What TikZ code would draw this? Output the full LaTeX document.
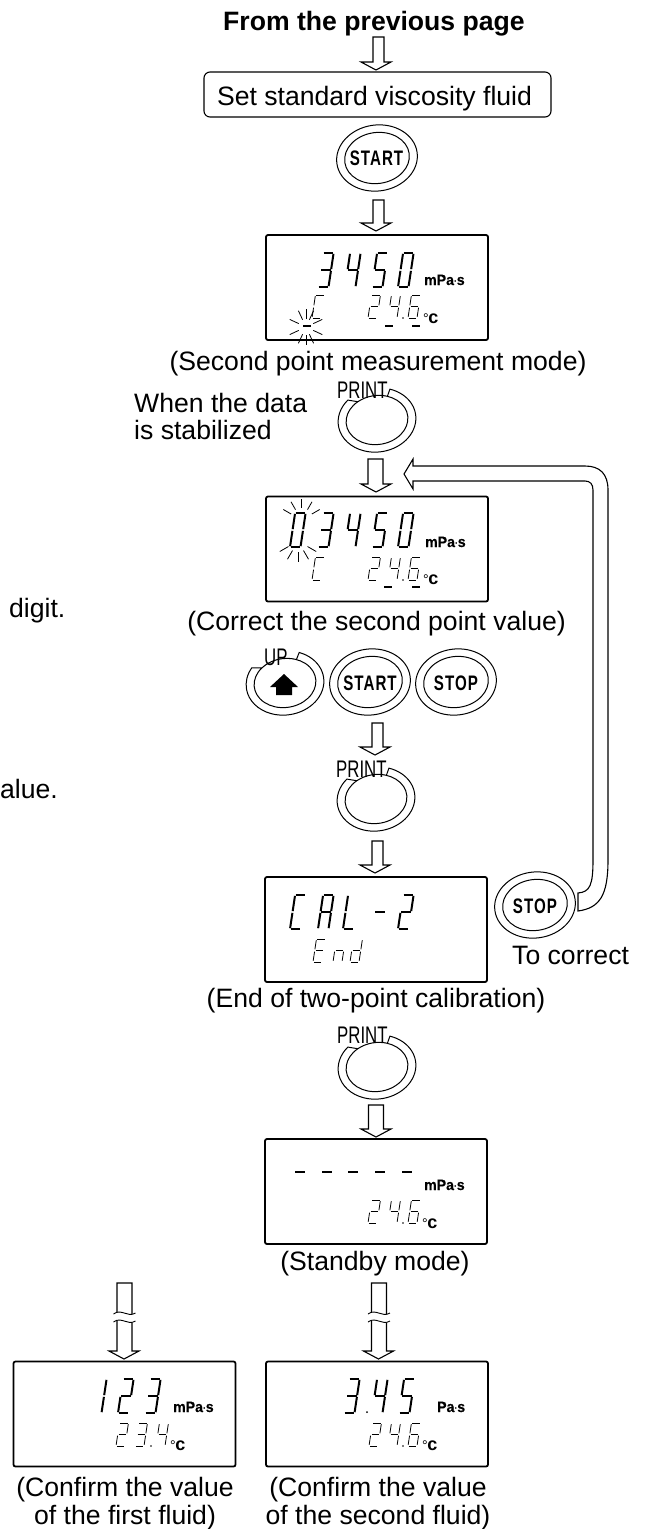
\documentclass[tikz,border=0pt]{standalone}
\usepackage{fontspec}
\setmainfont{Liberation Sans}
\newfontfamily\narrowfont[FakeStretch=0.7]{Liberation Sans}
\newfontfamily\keyfont[FakeStretch=0.72,LetterSpace=5]{Liberation Sans}
\newfontfamily\unitfont[FakeStretch=0.94,FakeBold=0.4]{Liberation Sans}
\usetikzlibrary{calc}

% segments of one lcd digit, x/y/x/y with y=0,1,2 from top to bottom
\newcommand{\defdigit}[2]{\expandafter\def\csname seg#1\endcsname{#2}}
\defdigit{0}{0/0/1/0,1/0/1/1,1/1/1/2,0/2/1/2,0/1/0/2,0/0/0/1}
\defdigit{1}{1/0/1/1,1/1/1/2}
\defdigit{2}{0/0/1/0,1/0/1/1,0/1/1/1,0/1/0/2,0/2/1/2}
\defdigit{3}{0/0/1/0,1/0/1/1,0/1/1/1,1/1/1/2,0/2/1/2}
\defdigit{4}{0/0/0/1,0/1/1/1,1/0/1/1,1/1/1/2}
\defdigit{5}{0/0/1/0,0/0/0/1,0/1/1/1,1/1/1/2,0/2/1/2}
\defdigit{6}{0/0/1/0,0/0/0/1,0/1/1/1,0/1/0/2,1/1/1/2,0/2/1/2}
\defdigit{C}{0/0/1/0,0/0/0/1,0/1/0/2,0/2/1/2}
\defdigit{A}{0/0/1/0,0/0/0/1,1/0/1/1,0/1/1/1,0/1/0/2,1/1/1/2}
\defdigit{L}{0/0/0/1,0/1/0/2,0/2/1/2}
\defdigit{E}{0/0/1/0,0/0/0/1,0/1/1/1,0/1/0/2,0/2/1/2}
\defdigit{n}{0/1/1/1,0/1/0/2,1/1/1/2}
\defdigit{d}{1/0/1/1,1/1/1/2,0/1/1/1,0/1/0/2,0/2/1/2}
\defdigit{m}{0/1/1/1}

% #1 width, #2 height, #3 line width, #4 x, #5 y of lower left corner, #6 digit
\newcommand{\lcddigit}[6]{
  \edef\seglist{\csname seg#6\endcsname}
  \begin{scope}[shift={(#4,#5)},xslant=0.15]
    \foreach \xa/\ya/\xb/\yb in \seglist
      \draw[line width=#3] ({(\xa+\seggap*(\xb-\xa))*#1},{(\ya+\seggap*(\yb-\ya)-2)*#2/2})--({(\xb-\seggap*(\xb-\xa))*#1},{(\yb-\seggap*(\yb-\ya)-2)*#2/2});
  \end{scope}}
\newcommand{\bigdigit}[3]{\def\seggap{0.05}\lcddigit{10.5}{34}{2pt}{#1}{#2}{#3}}
\newcommand{\smalldigit}[3]{\def\seggap{0.1}\lcddigit{9}{23}{0.8pt}{#1}{#2}{#3}}

% hollow arrow, shaft straight below #2 and tip on #3
\newcommand{\blockarrow}[3][5.5]{
  \draw[line width=1.1pt,fill=white,line join=miter] let \p1=(#2),\p2=(#3) in
    (\x1-#1pt,\y1)--(\x1+#1pt,\y1)--(\x1+#1pt,\y2+8pt)--(\x2+15pt,\y2+8pt)--(\x2,\y2)--(\x2-15pt,\y2+8pt)--(\x1-#1pt,\y2+8pt)--cycle;}
\newcommand{\arrowbreak}[2]{
  \fill[white] (#1-11,#2-2) .. controls (#1-3,#2-8) and (#1+3,#2+2) .. (#1+11,#2-3)--(#1+11,#2+5) .. controls (#1+3,#2+10) and (#1-3,#2) .. (#1-11,#2+6)--cycle;
  \draw[line width=0.9pt] (#1-11,#2-2) .. controls (#1-3,#2-8) and (#1+3,#2+2) .. (#1+11,#2-3);
  \draw[line width=0.9pt] (#1-11,#2+6) .. controls (#1-3,#2) and (#1+3,#2+10) .. (#1+11,#2+5);}
\newcommand{\keyring}[2]{
  \foreach \r/\s in {40.5/33,32.5/25.5}{\draw[line width=1pt,rotate around={8:(#1,#2)}] (#1,#2) ellipse [x radius=\r, y radius=\s];}}
\newcommand{\openring}[4]{
  \begin{scope}[shift={(#1,#2)},x=1pt,y=1pt,rotate=8]
    \draw[line width=1pt] (#3:39 and 32) arc [start angle=#3, end angle=#4-360, x radius=39, y radius=32]--(#4-10:31 and 24.5) arc [start angle=#4-10, end angle=#3-360, x radius=31, y radius=24.5]--cycle;
  \end{scope}}
\newcommand{\blinkrays}[5]{
  \foreach \a in {#5}{\draw[line width=0.8pt] (#1,#2)++(\a:#3 and -#3)--++(\a:#4 and -#4);}}

\tikzset{
  txt/.style={inner sep=0pt,anchor=base,font=\fontsize{26.6}{28}\selectfont},
  keytxt/.style={inner sep=0pt,font=\keyfont\bfseries\fontsize{21}{21}\selectfont},
  printtxt/.style={inner sep=0pt,anchor=base west,font=\narrowfont\fontsize{24}{24}\selectfont},
  unittxt/.style={inner sep=0pt,anchor=base west,font=\unitfont\bfseries\fontsize{15}{15}\selectfont},
  degtxt/.style={inner sep=0pt,anchor=base west,font=\fontsize{14}{15}\selectfont},
  dispbox/.style={draw,line width=1.8pt,rounded corners=2pt,minimum width=222pt,minimum height=105pt,inner sep=0pt},
}
\newcommand{\degc}{°\hspace{-0.5pt}{\bfseries\fontsize{18}{18}\selectfont c}}
\newcommand{\mpas}{mPa\raisebox{1pt}{\fontsize{9}{9}\selectfont·}s}

\begin{document}
\begin{tikzpicture}[x=1pt,y=-1pt]
  \useasboundingbox (0,0) rectangle (646,1529);
  \node[txt,font=\bfseries\fontsize{26.6}{28}\selectfont] (frompage) at (374,30) {From the previous page};
  \node[draw,line width=1.1pt,rounded corners=6pt,minimum width=347pt,minimum height=45pt,inner sep=0pt] (setfluid) at (377.5,94.5) {};
  \node[txt] (setfluidtxt) at (374.5,105) {Set standard viscosity fluid};
  \coordinate (inA) at (378.5,37); \coordinate (tipA) at (376,70);
  \blockarrow{inA}{tipA}

  % first display
  \keyring{377}{158}
  \node[keytxt] (startA) at (376.5,158.5) {START};
  \coordinate (inB) at (378.5,200); \coordinate (tipB) at (376,231);
  \blockarrow{inB}{tipB}
  \node[dispbox] (dispA) at (377,287.5) {};
  \foreach \x/\d in {318/3,345/4,372/5,398/0}{\bigdigit{\x}{287}{\d}}
  \foreach \x/\d in {312/C,368/2,388/4,408/6}{\smalldigit{\x}{318}{\d}}
  \fill (403,318) circle (0.8pt);
  \foreach \x in {303,385,412}{\draw[line width=2pt] (\x,326)--(\x+8,326);}
  \blinkrays{306}{327}{8}{10}{90,65,115,25,155,-25,-155,-65,-115,-90}
  \node[unittxt] (unitA) at (424,285) {\mpas};
  \node[degtxt] (degA) at (423,323) {\degc};
  \node[txt] (captionA) at (378,370) {(Second point measurement mode)};

  % stabilized
  \node[txt,anchor=base west,align=left] (whendata) at (134,412) {When the data};
  \node[txt,anchor=base west] (stabilized) at (134,439) {is stabilized};
  \node[printtxt] (printA) at (337,398) {PRINT};
  \openring{377}{420}{64}{132}
  \coordinate (inC) at (375.5,459); \coordinate (tipC) at (376,492);
  \blockarrow[7.5]{inC}{tipC}

  % second display
  \node[dispbox] (dispB) at (377,549) {};
  \foreach \x/\d in {290/0,318/3,345/4,372/5,398/0}{\bigdigit{\x}{547}{\d}}
  \foreach \x/\d in {312/C,368/2,388/4,408/6}{\smalldigit{\x}{580}{\d}}
  \fill (403,580) circle (0.8pt);
  \foreach \x in {384,412}{\draw[line width=2pt] (\x,587)--(\x+8,587);}
  \blinkrays{301.5}{520}{12}{9}{90,60,120,30,150}
  \blinkrays{298}{541}{11}{10}{-30,-150,-60,-120,-90}
  \node[unittxt] (unitB) at (425,547) {\mpas};
  \node[degtxt] (degB) at (423,584) {\degc};
  \node[txt] (captionB) at (376.5,630) {(Correct the second point value)};
  \node[txt,anchor=base west] (digit) at (9,617) {digit.};
  \node[txt,anchor=base west] (valueend) at (0,798) {alue.};

  % keys
  \openring{285}{683}{62}{142}
  \node[printtxt] (upkey) at (264,665) {UP};
  \fill (284,674)--(298,687)--(292,687)--(292,695)--(276,695)--(276,687)--(270,687)--cycle;
  \keyring{370}{682}
  \node[keytxt] (startB) at (370,683) {START};
  \keyring{456}{682}
  \node[keytxt] (stopA) at (456,683) {STOP};
  \coordinate (inD) at (377.5,723); \coordinate (tipD) at (375,755);
  \blockarrow{inD}{tipD}
  \node[printtxt] (printB) at (336,777) {PRINT};
  \openring{376}{799}{64}{132}
  \coordinate (inE) at (377.5,841); \coordinate (tipE) at (375,873);
  \blockarrow{inE}{tipE}

  % end of calibration
  \node[dispbox] (dispC) at (376,929.5) {};
  \foreach \x/\d in {290/C,318/A,343/L,372/m,398/2}{\bigdigit{\x}{929}{\d}}
  \foreach \x/\d in {313/E,333/n,350/d}{\smalldigit{\x}{962}{\d}}
  \node[txt] (captionC) at (376,1007) {(End of two-point calibration)};
  \keyring{535}{905}
  \node[keytxt] (stopB) at (535,906) {STOP};
  \node[txt,anchor=base west] (tocorrect) at (512,964) {To correct};
  \coordinate (looptip) at (404,474);
  \draw[line width=1.1pt,line join=miter] ($(stopB)+(43,-13)$) .. controls (590,892) and (593,885) .. (593,860)--(593,490) .. controls (593,484) and (590,481) .. (585,481)--(413,481)--(413,489)--(looptip)--(413,459)--(413,466)--(585,466) .. controls (600,466) and (608,474) .. (608,490)--(608,860) .. controls (608,895) and (600,908) .. ($(stopB)+(43,5)$)--cycle;
  \node[printtxt] (printC) at (337,1043) {PRINT};
  \openring{377}{1067}{64}{132}
  \coordinate (inF) at (376,1105); \coordinate (tipF) at (376,1137);
  \blockarrow[7.5]{inF}{tipF}

  % standby
  \node[dispbox] (dispD) at (376,1191.5) {};
  \foreach \x in {295,322,348,375,402}{\draw[line width=2pt] (\x,1172)--(\x+10,1172);}
  \foreach \x/\d in {368/2,388/4,408/6}{\smalldigit{\x}{1223}{\d}}
  \fill (403,1223) circle (0.8pt);
  \node[unittxt] (unitD) at (424,1190) {\mpas};
  \node[degtxt] (degD) at (422,1228) {\degc};
  \node[txt] (captionD) at (375,1270) {(Standby mode)};

  % confirm first fluid
  \coordinate (inG) at (124.5,1283); \coordinate (tipG) at (124,1359);
  \blockarrow[7.5]{inG}{tipG}
  \arrowbreak{124.5}{1316}
  \node[dispbox] (dispE) at (124.5,1414) {};
  \foreach \x/\d in {91/1,118/2,145/3}{\bigdigit{\x}{1413}{\d}}
  \foreach \x/\d in {116/2,135/3,156/4}{\smalldigit{\x}{1446}{\d}}
  \fill (151,1446) circle (0.8pt);
  \node[unittxt] (unitE) at (173,1412) {\mpas};
  \node[degtxt] (degE) at (170,1450) {\degc};
  \node[txt] (captionE) at (125,1496) {(Confirm the value};
  \node[txt] (captionEb) at (125,1524) {of the first fluid)};

  % confirm second fluid
  \coordinate (inH) at (379,1283); \coordinate (tipH) at (378.5,1359);
  \blockarrow[7.5]{inH}{tipH}
  \arrowbreak{379}{1316}
  \node[dispbox] (dispF) at (377,1414) {};
  \foreach \x/\d in {344/3,372/4,399/5}{\bigdigit{\x}{1413}{\d}}
  \fill (367,1412) circle (1pt);
  \foreach \x/\d in {369/2,388/4,408/6}{\smalldigit{\x}{1446}{\d}}
  \fill (403,1446) circle (0.8pt);
  \node[unittxt] (unitF) at (437,1412) {Pa\raisebox{1pt}{\fontsize{9}{9}\selectfont·}s};
  \node[degtxt] (degF) at (422,1450) {\degc};
  \node[txt] (captionF) at (378,1496) {(Confirm the value};
  \node[txt] (captionFb) at (378,1524) {of the second fluid)};
\end{tikzpicture}
\end{document}
